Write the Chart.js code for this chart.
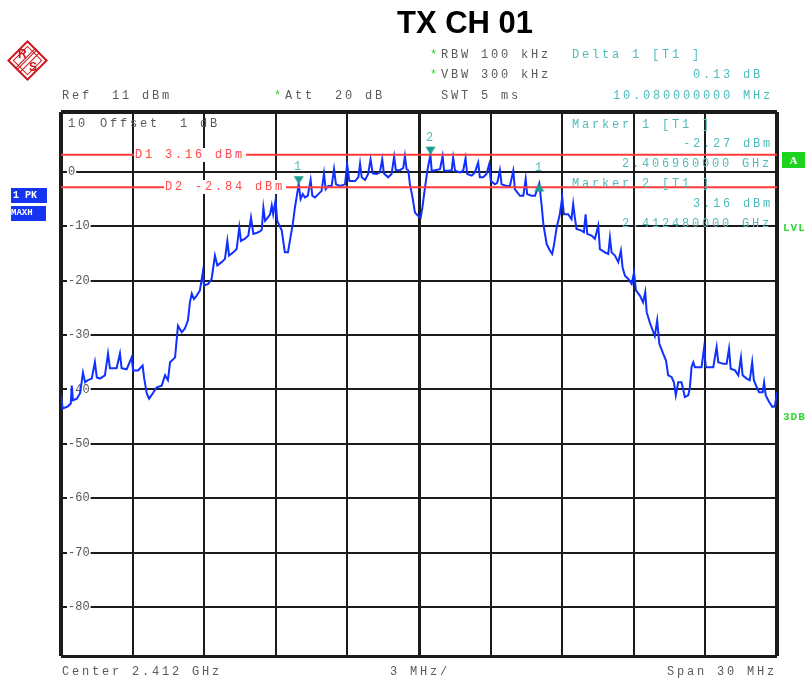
<!DOCTYPE html>
<html>
<head>
<meta charset="utf-8">
<script src="https://cdn.jsdelivr.net/npm/chart.js@4.4.1/dist/chart.umd.min.js"></script>
<style>
  html, body { margin: 0; padding: 0; background: #fff; }
  body { width: 805px; height: 680px; position: relative; overflow: hidden; }
  #chart { position: absolute; left: 0; top: 0; }
  .t { position: absolute; font: 12px "Liberation Mono", monospace; letter-spacing: 2.8px; line-height: 14px; color: #5a5a5a; white-space: pre; }
  .teal { color: #4fbcbc; }
  .red { color: #ff4a4a; background: #fff; padding: 0 1px; }
  .star { color: #2bd42b; }
  .green { color: #2ed82e; font-weight: bold; font-size: 11px; letter-spacing: 1px; }
  #title { position: absolute; left: 397px; top: 7px; font: bold 31px "Liberation Sans", Arial, sans-serif; line-height: 31px; color: #000; }
  .box { position: absolute; overflow: hidden; color: #fff; font: bold 10px "Liberation Mono", monospace; line-height: 15px; white-space: pre; }
  #logo { position: absolute; left: 13px; top: 46px; width: 25px; height: 25px; border: 2px solid #d0121b; transform: rotate(45deg); }
  #logo .inner { position: absolute; left: 2px; top: 2px; right: 2px; bottom: 2px; border: 1px solid #d0121b; }
  #logo .stripe { position: absolute; top: -2px; bottom: -2px; left: 9px; width: 5px; border-left: 1px solid #d0121b; border-right: 1px solid #d0121b; }
  #logo .stripe2 { position: absolute; top: -2px; bottom: -2px; left: 11px; width: 1px; background: #d0121b; }
  .logoTxt { position: absolute; font: bold 12px "Liberation Sans", sans-serif; color: #d0121b; line-height: 12px; }
</style>
</head>
<body>
<canvas id="chart" width="805" height="680"></canvas>

<div id="title">TX CH 01</div>
<div id="logo"><div class="inner"></div><div class="stripe"></div><div class="stripe2"></div></div>
<div class="logoTxt" style="left:18px;top:48px;">R</div>
<div class="logoTxt" style="left:29px;top:61px;">S</div>

<div class="t" style="left:62px;top:89px;">Ref  11 dBm</div>
<div class="t star" style="left:274px;top:89px;">*</div>
<div class="t" style="left:285px;top:89px;">Att  20 dB</div>
<div class="t star" style="left:430px;top:48px;">*</div>
<div class="t" style="left:441px;top:48px;">RBW 100 kHz</div>
<div class="t star" style="left:430px;top:68px;">*</div>
<div class="t" style="left:441px;top:68px;">VBW 300 kHz</div>
<div class="t" style="left:441px;top:89px;">SWT 5 ms</div>
<div class="t teal" style="left:572px;top:48px;">Delta 1 [T1 ]</div>
<div class="t teal" style="left:693px;top:68px;">0.13 dB</div>
<div class="t teal" style="left:613px;top:89px;">10.080000000 MHz</div>

<div class="t" style="left:68px;top:117px;">10</div>
<div class="t" style="left:100px;top:117px;">Offset  1 dB</div>
<div class="t teal" style="left:572px;top:118px;">Marker 1 [T1 ]</div>
<div class="t teal" style="left:683px;top:137px;">-2.27 dBm</div>
<div class="t teal" style="left:622px;top:157px;">2.406960000 GHz</div>
<div class="t teal" style="left:572px;top:177px;">Marker 2 [T1 ]</div>
<div class="t teal" style="left:693px;top:197px;">3.16 dBm</div>
<div class="t teal" style="left:622px;top:217px;">2.412480000 GHz</div>

<div class="t red" style="left:134px;top:148px;">D1 3.16 dBm</div>
<div class="t red" style="left:164px;top:180px;">D2 -2.84 dBm</div>

<div class="t teal" style="left:294px;top:160px;">1</div>
<div class="t teal" style="left:426px;top:131px;">2</div>
<div class="t teal" style="left:535px;top:161px;">1</div>

<div class="box" style="left:11px;top:188px;width:34px;height:15px;background:#1434f0;padding-left:2px;">1 PK</div>
<div class="box" style="left:11px;top:206px;width:35px;height:15px;background:#1434f0;font-size:9px;">MAXH</div>

<div class="box" style="left:782px;top:152px;width:23px;height:16px;background:#1ed31e;text-align:center;font:bold 11px 'Liberation Serif', serif;line-height:16px;">A</div>
<div class="t green" style="left:783px;top:221px;">LVL</div>
<div class="t green" style="left:783px;top:410px;">3DB</div>

<div class="t" style="left:62px;top:665px;">Center 2.412 GHz</div>
<div class="t" style="left:390px;top:665px;">3 MHz/</div>
<div class="t" style="left:667px;top:665px;">Span 30 MHz</div>

<script>
// span: 2.397 .. 2.427 GHz, x values are MHz from the start of the span
const spanMHz = [0, 30];
const levelRange = [-89, 11];
const xGrid = [0, 3, 6, 9, 12, 15, 18, 21, 24, 27, 30];
const yGrid = [11, 0, -10, -20, -30, -40, -50, -60, -70, -80, -89];

// trace 1, max hold (MHz from span start, dBm)
const traceMHz = [
  0.00, 0.07, 0.29, 0.41, 0.45, 0.50, 0.66, 0.80, 0.92, 1.01,
  1.13, 1.29, 1.42, 1.50, 1.63, 1.84, 1.97, 2.05, 2.33, 2.47,
  2.54, 2.75, 2.96, 3.02, 3.23, 3.42, 3.48, 3.59, 3.69, 3.85,
  4.01, 4.22, 4.36, 4.48, 4.57, 4.78, 4.85, 4.90, 5.06, 5.19,
  5.32, 5.40, 5.48, 5.57, 5.68, 5.82, 5.94, 5.99, 6.17, 6.31,
  6.45, 6.55, 6.73, 6.87, 6.97, 7.04, 7.22, 7.36, 7.47, 7.54,
  7.71, 7.85, 7.96, 8.06, 8.27, 8.41, 8.48, 8.55, 8.66, 8.76,
  8.83, 8.89, 8.99, 9.06, 9.25, 9.38, 9.51, 9.59, 9.71, 9.80,
  9.96, 10.04, 10.13, 10.22, 10.34, 10.46, 10.53, 10.64, 10.78, 10.92,
  11.02, 11.09, 11.20, 11.34, 11.44, 11.52, 11.69, 11.90, 11.99, 12.08,
  12.32, 12.46, 12.53, 12.60, 12.74, 12.87, 12.97, 13.06, 13.23, 13.36,
  13.46, 13.53, 13.71, 13.85, 13.96, 14.03, 14.20, 14.34, 14.41, 14.48,
  14.55, 14.62, 14.73, 14.83, 14.97, 15.07, 15.14, 15.25, 15.35, 15.48,
  15.53, 15.67, 15.88, 15.99, 16.05, 16.23, 16.37, 16.43, 16.51, 16.72,
  16.85, 16.95, 17.02, 17.21, 17.34, 17.48, 17.55, 17.69, 17.83, 17.94,
  18.01, 18.18, 18.28, 18.39, 18.46, 18.67, 18.81, 18.95, 19.02, 19.23,
  19.37, 19.47, 19.53, 19.72, 19.86, 20.04, 20.14, 20.21, 20.35, 20.49,
  20.58, 20.65, 20.77, 20.90, 21.00, 21.07, 21.25, 21.39, 21.46, 21.53,
  21.60, 21.81, 21.91, 21.98, 22.05, 22.23, 22.37, 22.51, 22.58, 22.79,
  22.93, 23.00, 23.07, 23.21, 23.35, 23.46, 23.53, 23.63, 23.77, 23.91,
  24.01, 24.09, 24.26, 24.39, 24.48, 24.54, 24.67, 24.88, 24.98, 25.07,
  25.23, 25.35, 25.44, 25.58, 25.68, 25.76, 25.86, 26.00, 26.14, 26.28,
  26.35, 26.42, 26.49, 26.56, 26.84, 26.94, 27.02, 27.33, 27.47, 27.54,
  27.75, 27.89, 27.99, 28.06, 28.24, 28.38, 28.49, 28.56, 28.73, 28.86,
  28.96, 29.03, 29.15, 29.25, 29.40, 29.46, 29.53, 29.67, 29.81, 29.91,
  30.00
];
const traceDbm = [
  -41.1, -43.5, -43.1, -42.6, -39.3, -42.0, -41.7, -40.7, -36.9, -38.7,
  -38.3, -38.0, -35.0, -37.8, -38.0, -37.4, -33.4, -36.1, -36.1, -33.4,
  -36.1, -36.3, -34.1, -36.5, -36.5, -35.6, -37.8, -40.7, -41.7, -40.7,
  -39.6, -39.3, -37.4, -38.3, -35.0, -34.1, -30.7, -28.3, -29.5, -28.8,
  -27.3, -24.0, -22.4, -23.4, -22.8, -21.8, -18.5, -20.9, -20.6, -19.7,
  -15.4, -17.2, -16.6, -16.0, -12.7, -15.4, -14.8, -14.2, -10.2, -12.7,
  -12.3, -11.7, -8.4, -11.4, -11.1, -10.7, -6.6, -9.0, -8.4, -7.8,
  -6.2, -7.8, -5.2, -9.0, -10.8, -14.8, -14.8, -12.7, -9.6, -6.6,
  -2.27, -5.0, -4.1, -4.7, -4.4, -1.5, -4.4, -4.7, -4.1, -3.5,
  -0.3, -3.2, -2.6, -2.6, 0.5, -2.3, -2.6, -2.3, 1.4, -1.7,
  -1.7, -1.0, 1.5, -1.0, -1.5, -0.4, 2.3, -0.3, -0.4, -0.1,
  2.3, -0.3, -1.0, -0.4, 2.8, 0.3, 0.3, 0.7, 2.9, 0.5,
  0.3, -2.3, -4.7, -7.5, -8.1, -8.4, -6.6, -2.9, 0.2, 3.16,
  0.2, 0.3, 0.5, 2.9, 0.2, 0.2, 0.3, 2.6, 0.2, -0.1,
  0.2, 2.5, -0.4, -0.7, -0.1, 1.7, -1.0, -1.0, -0.4, 1.4,
  -1.7, -2.3, -2.0, 0.3, -2.3, -2.6, -2.6, 0.2, -3.2, -4.4,
  -4.4, -1.3, -4.1, -4.4, -4.4, -2.14, -6.2, -9.6, -13.3, -14.5,
  -15.1, -13.6, -10.2, -7.8, -4.7, -7.8, -7.8, -8.7, -5.9, -8.4,
  -10.5, -10.8, -11.1, -7.8, -11.4, -11.7, -12.3, -9.9, -14.2, -14.8,
  -15.1, -12.1, -14.8, -15.4, -16.6, -14.5, -17.6, -19.1, -19.7, -20.6,
  -18.5, -21.8, -22.8, -24.0, -22.1, -25.8, -27.7, -30.2, -27.3, -31.6,
  -33.4, -34.7, -37.4, -37.7, -38.7, -41.1, -38.7, -38.7, -41.4, -41.1,
  -39.6, -35.9, -35.0, -35.9, -35.9, -32.5, -35.9, -35.9, -32.2, -35.0,
  -35.3, -35.3, -32.5, -36.2, -36.5, -37.4, -34.1, -37.4, -38.0, -38.3,
  -35.0, -38.3, -39.6, -40.5, -40.5, -38.7, -41.1, -42.3, -43.2, -43.1,
  -40.5
];

// markers (MHz from span start, dBm)
const markerMHz = [9.96, 15.48];
const markerDbm = [-2.27, 3.16];
const deltaMHz = [20.04];
const deltaDbm = [-2.14];

// display lines D1 / D2
const displayLines = [3.16, -2.84];

const traceColor = "#1030ff";
const markerColor = "#169c8f";
const lineColor = "#ff3b3b";

// marker symbol: tip sits on the canvas centre, so it points at the trace value
function triangle(down) {
  const c = document.createElement("canvas");
  c.width = 12;
  c.height = 20;
  const g = c.getContext("2d");
  g.fillStyle = markerColor;
  g.beginPath();
  if (down) {
    g.moveTo(1, 2); g.lineTo(11, 2); g.lineTo(6, 10);
  } else {
    g.moveTo(1, 18); g.lineTo(11, 18); g.lineTo(6, 10);
  }
  g.closePath();
  g.fill();
  return c;
}

const toPoints = (xs, ys) => xs.map((x, i) => ({ x, y: ys[i] }));

const datasets = [
  {
    data: toPoints(markerMHz, markerDbm),
    showLine: false,
    pointStyle: triangle(true),
    pointRadius: 6
  },
  {
    data: toPoints(deltaMHz, deltaDbm),
    showLine: false,
    pointStyle: triangle(false),
    pointRadius: 6
  }
];
displayLines.forEach(v => {
  datasets.push({
    data: toPoints(spanMHz, [v, v]),
    borderColor: lineColor,
    borderWidth: 2,
    pointRadius: 0
  });
});
datasets.push({
  data: toPoints(traceMHz, traceDbm),
  borderColor: traceColor,
  borderWidth: 2,
  pointRadius: 0,
  tension: 0
});

const gridWidthX = ctx => {
  const v = ctx.tick && ctx.tick.value;
  if (v === spanMHz[0] || v === spanMHz[1]) return 4;
  if (v === 15) return 3;
  return 2;
};
const gridWidthY = ctx => {
  const v = ctx.tick && ctx.tick.value;
  if (v === levelRange[1]) return 4;
  return v === levelRange[0] ? 3 : 2;
};

new Chart(document.getElementById("chart"), {
  type: "line",
  data: { datasets },
  options: {
    animation: false,
    responsive: false,
    layout: { padding: { left: 61, right: 28, top: 112, bottom: 24 } },
    plugins: { legend: { display: false }, tooltip: { enabled: false } },
    scales: {
      x: {
        type: "linear",
        min: spanMHz[0],
        max: spanMHz[1],
        afterBuildTicks: s => { s.ticks = xGrid.map(v => ({ value: v })); },
        afterFit: s => { s.height = 0; },
        ticks: { display: false },
        border: { display: false },
        grid: { color: "#1c1c1c", lineWidth: gridWidthX, drawTicks: false }
      },
      y: {
        min: levelRange[0],
        max: levelRange[1],
        afterBuildTicks: s => { s.ticks = yGrid.map(v => ({ value: v })); },
        afterFit: s => { s.width = 0; },
        border: { display: false },
        grid: { color: "#1c1c1c", lineWidth: gridWidthY, drawTicks: false },
        ticks: {
          mirror: true,
          padding: 7,
          color: "#555",
          font: { family: "Liberation Mono", size: 12 },
          callback: v => (v > 0 || v === levelRange[0]) ? "" : String(v),
          showLabelBackdrop: ctx => !!(ctx.tick && ctx.tick.label),
          backdropColor: "#fff",
          backdropPadding: { left: 1, right: 1, top: 0, bottom: 0 }
        }
      }
    }
  }
});
</script>
</body>
</html>
